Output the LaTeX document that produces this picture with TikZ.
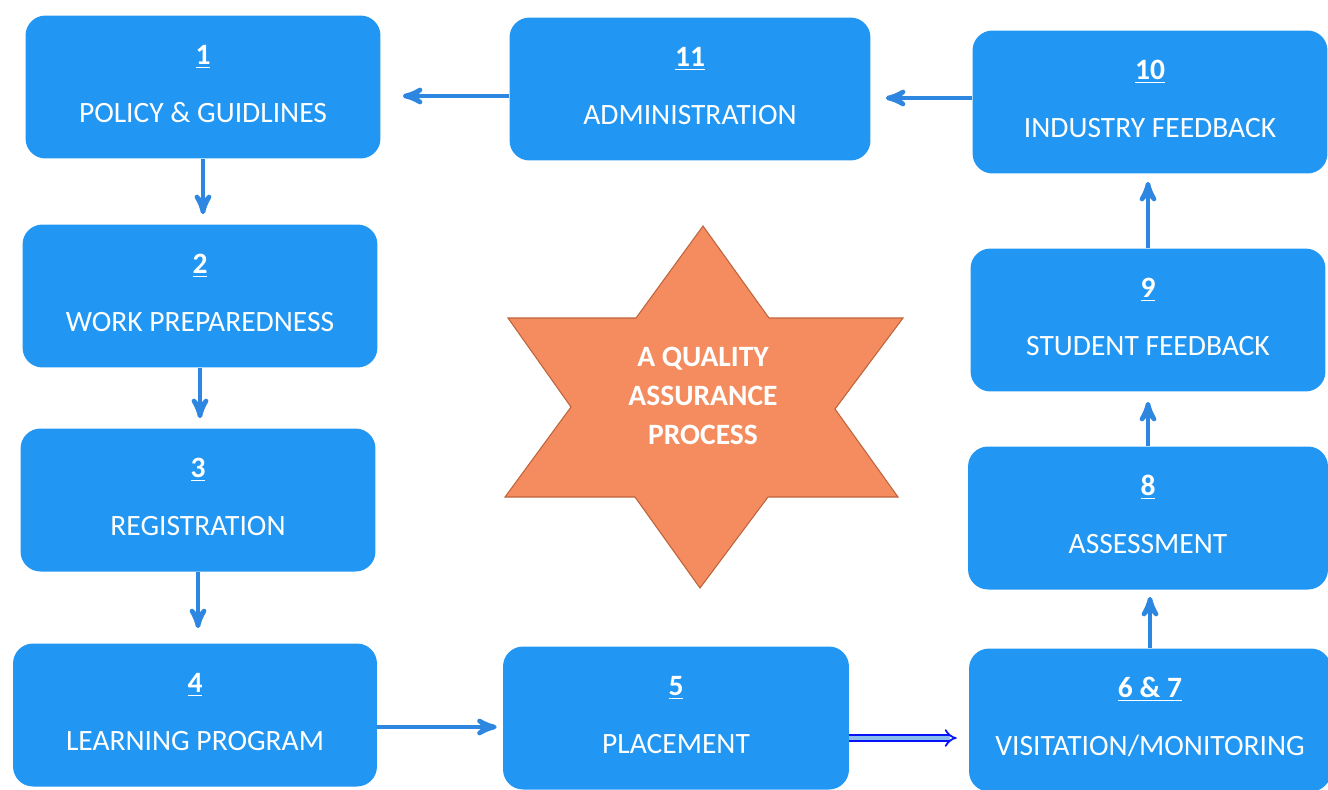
\documentclass[tikz,border=0pt]{standalone}
\usepackage{fontspec}
\setsansfont{Carlito}
\usepackage{tikz}
\usetikzlibrary{shapes}
\usetikzlibrary{arrows}
\definecolor{qbleu}{RGB}{33,150,243}
\definecolor{qfleche}{RGB}{45,135,225}
\definecolor{qorange}{RGB}{244,140,95}
\definecolor{qbord}{RGB}{190,100,60}
% numero souligne puis intitule, un peu remonte dans la boite
\newcommand{\etiq}[2]{\raisebox{0.12cm}{\begin{tabular}{@{}c@{}}%
	\underline{\textbf{#1}}\\[14pt]#2\end{tabular}}}
\tikzset{
	etape/.style = {align=center, inner sep=0pt, text centered,
		font=\sffamily\fontsize{16.8}{19}\selectfont, white, fill=qbleu,
		rounded corners=0.4cm, minimum width=7.1cm, minimum height=2.86cm},% etape du processus
	lien/.style = {->, >=stealth', draw=qfleche, line width=2.6pt,
		shorten >=0.2cm},% fleche simple
	lien_d/.style = {-implies, draw=blue!85!qfleche, double=qfleche!55!white,
		double distance=2.4pt, line width=1pt, shorten >=0.24cm},% fleche double
	etoile/.style = {fill=qorange, draw=qbord, line width=0.6pt}% etoile centrale
}

\begin{document}
\begin{tikzpicture}[x=0.02cm, y=-0.02cm]
	\useasboundingbox (0,0) rectangle (1328,789);
	% colonne de gauche
	\node[etape] (n1) at (203,87) {\etiq{1}{POLICY \& GUIDLINES}};
	\node[etape] (n2) at (200,296) {\etiq{2}{WORK PREPAREDNESS}};
	\node[etape] (n3) at (198,500) {\etiq{3}{REGISTRATION}};
	\node[etape, minimum width=7.28cm] (n4) at (195,715) {\etiq{4}{LEARNING PROGRAM}};
	% milieu
	\node[etape, minimum width=6.92cm] (n5) at (676,718) {\etiq{5}{PLACEMENT}};
	\node[etape, minimum width=7.22cm] (n11) at (690,89) {\etiq{11}{ADMINISTRATION}};
	% colonne de droite
	\node[etape, minimum width=7.24cm] (n67) at (1150,720) {\etiq{6 \& 7}{VISITATION/MONITORING}};
	\node[etape, minimum width=7.2cm] (n8) at (1148,518) {\etiq{8}{ASSESSMENT}};
	\node[etape] (n9) at (1148,320) {\etiq{9}{STUDENT FEEDBACK}};
	\node[etape] (n10) at (1150,102) {\etiq{10}{INDUSTRY FEEDBACK}};
	% etoile
	\draw[etoile] (703,226) -- (769,318) -- (903,318) -- (835,409) -- (898,497)
		-- (768,497) -- (700,588) -- (635,497) -- (505,497) -- (571,407)
		-- (508,318) -- (636,318) -- cycle;
	\node[font=\sffamily\bfseries\fontsize{16.8}{22}\selectfont, white, align=center]
		(qa) at (703,396) {A QUALITY\\ASSURANCE\\PROCESS};
	% fleches
	\draw[lien] (n1.south) -- (n1.south |- n2.north);
	\draw[lien] (n2.south) -- (n2.south |- n3.north);
	\draw[lien, shorten >=0.3cm] (n3.south) -- (n3.south |- n4.north);
	\draw[lien, shorten >=0.12cm] ([yshift=-0.24cm]n4.east) -- ([yshift=-0.24cm]n4.east -| n5.west);
	\draw[lien_d] ([yshift=-0.4cm]n5.east) -- ([yshift=-0.4cm]n5.east -| n67.west);
	\draw[lien, shorten >=0.14cm] (n67.north) -- (n67.north |- n8.south);
	\draw[lien] (n8.north) -- (n8.north |- n9.south);
	\draw[lien, shorten >=0.16cm] (n9.north) -- (n9.north |- n10.south);
	\draw[lien, shorten >=0.3cm] ([yshift=0.08cm]n10.west) -- ([yshift=0.08cm]n10.west -| n11.east);
	\draw[lien, shorten >=0.44cm] ([yshift=-0.14cm]n11.west) -- ([yshift=-0.14cm]n11.west -| n1.east);
\end{tikzpicture}
\end{document}
